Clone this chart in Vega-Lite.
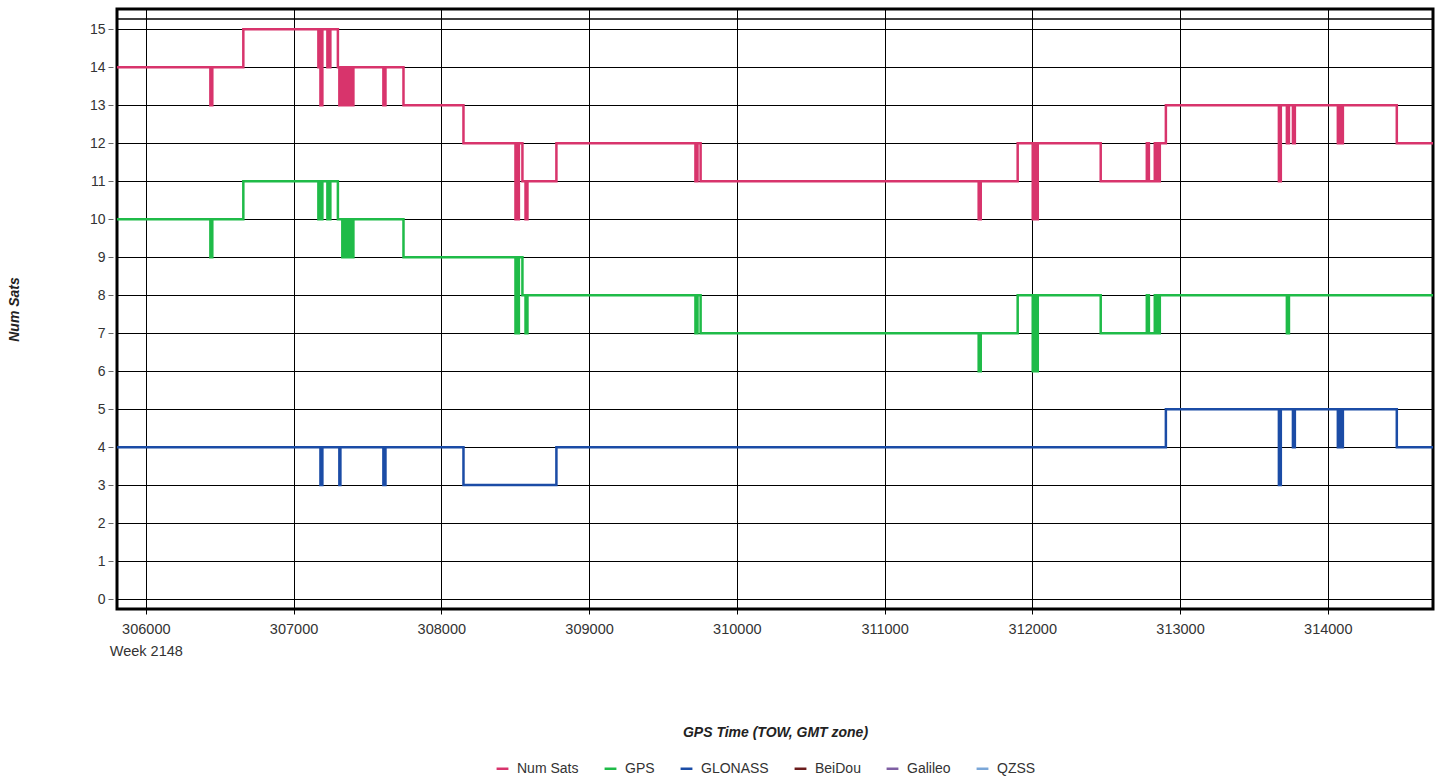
{
  "$schema": "https://vega.github.io/schema/vega-lite/v6.json",
  "autosize": {"type": "none"},
  "width": 1316,
  "height": 600,
  "padding": {"left": 117, "top": 9, "right": 7, "bottom": 168},
  "background": "white",
  "config": {
    "font": "Liberation Sans",
    "view": {"stroke": "black", "strokeWidth": 3}
  },
  "datasets": {
    "sats": [
      {"t": 305805, "n": 14, "s": "Num Sats"}, {"t": 306437, "n": 13, "s": "Num Sats"}, {"t": 306450, "n": 14, "s": "Num Sats"},
      {"t": 306660, "n": 15, "s": "Num Sats"}, {"t": 307168, "n": 14, "s": "Num Sats"}, {"t": 307175, "n": 15, "s": "Num Sats"},
      {"t": 307182, "n": 13, "s": "Num Sats"}, {"t": 307195, "n": 15, "s": "Num Sats"}, {"t": 307229, "n": 14, "s": "Num Sats"},
      {"t": 307236, "n": 15, "s": "Num Sats"}, {"t": 307242, "n": 14, "s": "Num Sats"}, {"t": 307249, "n": 15, "s": "Num Sats"},
      {"t": 307300, "n": 14, "s": "Num Sats"}, {"t": 307310, "n": 13, "s": "Num Sats"}, {"t": 307317, "n": 14, "s": "Num Sats"},
      {"t": 307330, "n": 13, "s": "Num Sats"}, {"t": 307340, "n": 14, "s": "Num Sats"}, {"t": 307350, "n": 13, "s": "Num Sats"},
      {"t": 307360, "n": 14, "s": "Num Sats"}, {"t": 307370, "n": 13, "s": "Num Sats"}, {"t": 307380, "n": 14, "s": "Num Sats"},
      {"t": 307390, "n": 13, "s": "Num Sats"}, {"t": 307405, "n": 14, "s": "Num Sats"}, {"t": 307608, "n": 13, "s": "Num Sats"},
      {"t": 307622, "n": 14, "s": "Num Sats"}, {"t": 307744, "n": 13, "s": "Num Sats"}, {"t": 308150, "n": 12, "s": "Num Sats"},
      {"t": 308502, "n": 10, "s": "Num Sats"}, {"t": 308512, "n": 12, "s": "Num Sats"}, {"t": 308518, "n": 10, "s": "Num Sats"},
      {"t": 308525, "n": 12, "s": "Num Sats"}, {"t": 308549, "n": 11, "s": "Num Sats"}, {"t": 308570, "n": 10, "s": "Num Sats"},
      {"t": 308583, "n": 11, "s": "Num Sats"}, {"t": 308779, "n": 12, "s": "Num Sats"}, {"t": 309720, "n": 11, "s": "Num Sats"},
      {"t": 309734, "n": 12, "s": "Num Sats"}, {"t": 309755, "n": 11, "s": "Num Sats"}, {"t": 311637, "n": 10, "s": "Num Sats"},
      {"t": 311651, "n": 11, "s": "Num Sats"}, {"t": 311901, "n": 12, "s": "Num Sats"}, {"t": 312003, "n": 10, "s": "Num Sats"},
      {"t": 312015, "n": 12, "s": "Num Sats"}, {"t": 312025, "n": 10, "s": "Num Sats"}, {"t": 312037, "n": 12, "s": "Num Sats"},
      {"t": 312463, "n": 11, "s": "Num Sats"}, {"t": 312775, "n": 12, "s": "Num Sats"}, {"t": 312789, "n": 11, "s": "Num Sats"},
      {"t": 312829, "n": 12, "s": "Num Sats"}, {"t": 312838, "n": 11, "s": "Num Sats"}, {"t": 312848, "n": 12, "s": "Num Sats"},
      {"t": 312856, "n": 11, "s": "Num Sats"}, {"t": 312863, "n": 12, "s": "Num Sats"}, {"t": 312904, "n": 13, "s": "Num Sats"},
      {"t": 313669, "n": 11, "s": "Num Sats"}, {"t": 313682, "n": 13, "s": "Num Sats"}, {"t": 313723, "n": 12, "s": "Num Sats"},
      {"t": 313737, "n": 13, "s": "Num Sats"}, {"t": 313764, "n": 12, "s": "Num Sats"}, {"t": 313777, "n": 13, "s": "Num Sats"},
      {"t": 314068, "n": 12, "s": "Num Sats"}, {"t": 314077, "n": 13, "s": "Num Sats"}, {"t": 314090, "n": 12, "s": "Num Sats"},
      {"t": 314102, "n": 13, "s": "Num Sats"}, {"t": 314467, "n": 12, "s": "Num Sats"}, {"t": 314712, "n": 12, "s": "Num Sats"},

      {"t": 305805, "n": 10, "s": "GPS"}, {"t": 306437, "n": 9, "s": "GPS"}, {"t": 306450, "n": 10, "s": "GPS"},
      {"t": 306660, "n": 11, "s": "GPS"}, {"t": 307168, "n": 10, "s": "GPS"}, {"t": 307175, "n": 11, "s": "GPS"},
      {"t": 307182, "n": 10, "s": "GPS"}, {"t": 307195, "n": 11, "s": "GPS"}, {"t": 307229, "n": 10, "s": "GPS"},
      {"t": 307236, "n": 11, "s": "GPS"}, {"t": 307242, "n": 10, "s": "GPS"}, {"t": 307249, "n": 11, "s": "GPS"},
      {"t": 307300, "n": 10, "s": "GPS"}, {"t": 307330, "n": 9, "s": "GPS"}, {"t": 307340, "n": 10, "s": "GPS"},
      {"t": 307350, "n": 9, "s": "GPS"}, {"t": 307360, "n": 10, "s": "GPS"}, {"t": 307370, "n": 9, "s": "GPS"},
      {"t": 307380, "n": 10, "s": "GPS"}, {"t": 307390, "n": 9, "s": "GPS"}, {"t": 307405, "n": 10, "s": "GPS"},
      {"t": 307744, "n": 9, "s": "GPS"}, {"t": 308502, "n": 7, "s": "GPS"}, {"t": 308512, "n": 9, "s": "GPS"},
      {"t": 308518, "n": 7, "s": "GPS"}, {"t": 308525, "n": 9, "s": "GPS"}, {"t": 308549, "n": 8, "s": "GPS"},
      {"t": 308570, "n": 7, "s": "GPS"}, {"t": 308583, "n": 8, "s": "GPS"}, {"t": 309720, "n": 7, "s": "GPS"},
      {"t": 309734, "n": 8, "s": "GPS"}, {"t": 309755, "n": 7, "s": "GPS"}, {"t": 311637, "n": 6, "s": "GPS"},
      {"t": 311651, "n": 7, "s": "GPS"}, {"t": 311901, "n": 8, "s": "GPS"}, {"t": 312003, "n": 6, "s": "GPS"},
      {"t": 312015, "n": 8, "s": "GPS"}, {"t": 312025, "n": 6, "s": "GPS"}, {"t": 312037, "n": 8, "s": "GPS"},
      {"t": 312463, "n": 7, "s": "GPS"}, {"t": 312775, "n": 8, "s": "GPS"}, {"t": 312789, "n": 7, "s": "GPS"},
      {"t": 312829, "n": 8, "s": "GPS"}, {"t": 312838, "n": 7, "s": "GPS"}, {"t": 312848, "n": 8, "s": "GPS"},
      {"t": 312856, "n": 7, "s": "GPS"}, {"t": 312863, "n": 8, "s": "GPS"}, {"t": 313723, "n": 7, "s": "GPS"},
      {"t": 313737, "n": 8, "s": "GPS"}, {"t": 314712, "n": 8, "s": "GPS"},

      {"t": 305805, "n": 4, "s": "GLONASS"}, {"t": 307182, "n": 3, "s": "GLONASS"}, {"t": 307195, "n": 4, "s": "GLONASS"},
      {"t": 307310, "n": 3, "s": "GLONASS"}, {"t": 307317, "n": 4, "s": "GLONASS"}, {"t": 307608, "n": 3, "s": "GLONASS"},
      {"t": 307622, "n": 4, "s": "GLONASS"}, {"t": 308150, "n": 3, "s": "GLONASS"}, {"t": 308779, "n": 4, "s": "GLONASS"},
      {"t": 312904, "n": 5, "s": "GLONASS"}, {"t": 313669, "n": 3, "s": "GLONASS"}, {"t": 313682, "n": 5, "s": "GLONASS"},
      {"t": 313764, "n": 4, "s": "GLONASS"}, {"t": 313777, "n": 5, "s": "GLONASS"}, {"t": 314068, "n": 4, "s": "GLONASS"},
      {"t": 314077, "n": 5, "s": "GLONASS"}, {"t": 314090, "n": 4, "s": "GLONASS"}, {"t": 314102, "n": 5, "s": "GLONASS"},
      {"t": 314467, "n": 4, "s": "GLONASS"}, {"t": 314712, "n": 4, "s": "GLONASS"}
    ],
    "topline": [{"n": 15.27}]
  },
  "encoding": {
    "y": {
      "field": "n", "type": "quantitative",
      "scale": {"domain": [-0.26, 15.53], "nice": false, "zero": false},
      "axis": {
        "values": [0, 1, 2, 3, 4, 5, 6, 7, 8, 9, 10, 11, 12, 13, 14, 15],
        "labelFontSize": 14,
        "labelColor": "#333333",
        "labelPadding": 3,
        "labelOverlap": false,
        "labelBound": false,
        "tickSize": 5,
        "tickColor": "#666666",
        "offset": 4,
        "domain": false,
        "grid": true,
        "gridColor": "black",
        "gridOpacity": 1,
        "gridWidth": 1,
        "title": "Num Sats",
        "titleFontSize": 14,
        "titleFontStyle": "italic",
        "titleFontWeight": "bold",
        "titleColor": "#222222",
        "titleAngle": -90,
        "titleAlign": "center",
        "titleBaseline": "middle",
        "titleX": -99,
        "titleY": 300
      }
    }
  },
  "layer": [
    {
      "data": {"name": "topline"},
      "mark": {"type": "rule", "color": "black", "strokeWidth": 1.5},
      "encoding": {}
    },
    {
      "data": {"name": "sats"},
      "mark": {"type": "line", "interpolate": "step-after", "strokeWidth": 2.5},
      "encoding": {
        "x": {
          "field": "t", "type": "quantitative",
          "scale": {"domain": [305805, 314712], "nice": false, "zero": false},
          "axis": {
            "values": [306000, 307000, 308000, 309000, 310000, 311000, 312000, 313000, 314000],
            "format": "d",
            "labelExpr": "datum.value == 306000 ? [datum.label, 'Week 2148'] : datum.label",
            "labelLineHeight": 22,
            "labelFontSize": 14.5,
            "labelColor": "#333333",
            "labelPadding": 8,
            "labelOverlap": false,
            "tickSize": 5,
            "tickColor": "black",
            "domain": false,
            "grid": true,
            "gridColor": "black",
            "gridOpacity": 1,
            "gridWidth": 1,
            "title": "GPS Time (TOW, GMT zone)",
            "titleFontSize": 14,
            "titleFontStyle": "italic",
            "titleFontWeight": "bold",
            "titleColor": "#222222",
            "titleBaseline": "alphabetic",
            "titleY": 127
          }
        },
        "color": {
          "field": "s", "type": "nominal",
          "scale": {
            "domain": ["Num Sats", "GPS", "GLONASS", "BeiDou", "Galileo", "QZSS"],
            "range": ["#d8346c", "#1fbb48", "#1b4ca6", "#6b1c1c", "#7f5fa3", "#7ba7d8"]
          },
          "legend": {
            "title": null,
            "orient": "none",
            "legendX": 378,
            "legendY": 752,
            "direction": "horizontal",
            "symbolType": "stroke",
            "symbolStrokeWidth": 2.5,
            "symbolSize": 140,
            "labelFontSize": 14,
            "labelColor": "#333333",
            "labelOffset": 7,
            "columnPadding": 20
          }
        }
      }
    }
  ]
}
